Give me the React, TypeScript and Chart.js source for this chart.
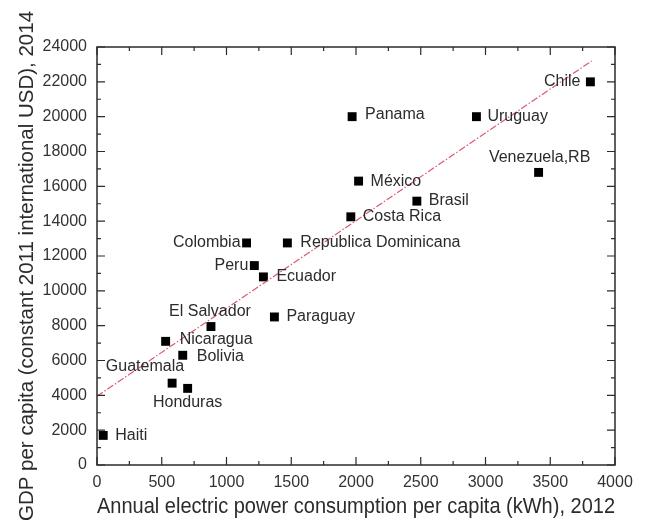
import React, { useEffect, useRef } from "react";
import { Chart, registerables } from "chart.js";

Chart.register(...registerables);

const countries = [
  "Chile", "Panama", "Uruguay", "Venezuela,RB", "México", "Brasil", "Costa Rica",
  "Colombia", "Republica Dominicana", "Peru", "Ecuador", "El Salvador", "Paraguay",
  "Nicaragua", "Bolivia", "Guatemala", "Honduras", "Haiti",
];
const powerKWh = [3810, 1970, 2930, 3410, 2020, 2470, 1960, 1155, 1470, 1215, 1285, 880, 1370, 530, 662, 580, 700, 48];
const gdpUSD = [22000, 20000, 20000, 16800, 16300, 15150, 14250, 12750, 12750, 11450, 10800, 7950, 8500, 7100, 6300, 4700, 4400, 1700];
const trendX = [0, 3820];
const trendY = [3950, 23200];
const xTicks = [0, 500, 1000, 1500, 2000, 2500, 3000, 3500, 4000];
const yTicks = [0, 2000, 4000, 6000, 8000, 10000, 12000, 14000, 16000, 18000, 20000, 22000, 24000];
const xTitle = "Annual electric power consumption per capita (kWh), 2012";
const yTitle = "GDP per capita (constant 2011 international USD), 2014";

// label placement: text alignment and pixel offset from the marker
const labelPlacement: { align: CanvasTextAlign; dx: number; dy: number }[] = [
  { align: "right", dx: -10, dy: 0 },
  { align: "left", dx: 13, dy: -2 },
  { align: "left", dx: 11, dy: 0 },
  { align: "center", dx: 1, dy: -15 },
  { align: "left", dx: 12, dy: 0 },
  { align: "left", dx: 12, dy: -1 },
  { align: "left", dx: 12, dy: 0 },
  { align: "right", dx: -6, dy: 0 },
  { align: "left", dx: 13, dy: 0 },
  { align: "right", dx: -6, dy: 0 },
  { align: "left", dx: 13, dy: 0 },
  { align: "center", dx: -1, dy: -15 },
  { align: "left", dx: 12, dy: 0 },
  { align: "left", dx: 14, dy: -2 },
  { align: "left", dx: 14, dy: 1 },
  { align: "right", dx: 12, dy: -17 },
  { align: "center", dx: 0, dy: 14 },
  { align: "left", dx: 12, dy: 0 },
];

const FONT = "'Liberation Sans', Arial, Helvetica, sans-serif";
const INK = "#2b2b2b";

const framePlugin = {
  id: "frameTicks",
  afterDatasetsDraw(chart: any) {
    const { ctx, chartArea } = chart;
    const { left, right, top, bottom } = chartArea;
    const xs = chart.scales.x;
    const ys = chart.scales.y;
    ctx.save();
    ctx.strokeStyle = INK;
    ctx.lineWidth = 1.5;
    ctx.strokeRect(left, top, right - left, bottom - top);
    ctx.lineWidth = 1.2;
    ctx.beginPath();
    for (let v = 0; v <= 4000; v += 250) {
      const len = v % 500 === 0 ? 8 : 4;
      const px = xs.getPixelForValue(v);
      ctx.moveTo(px, bottom);
      ctx.lineTo(px, bottom - len);
      ctx.moveTo(px, top);
      ctx.lineTo(px, top + len);
    }
    for (let v = 0; v <= 24000; v += 1000) {
      const len = v % 2000 === 0 ? 8 : 4;
      const py = ys.getPixelForValue(v);
      ctx.moveTo(left, py);
      ctx.lineTo(left + len, py);
      ctx.moveTo(right, py);
      ctx.lineTo(right - len, py);
    }
    ctx.stroke();

    // country labels
    ctx.fillStyle = INK;
    ctx.font = `16px ${FONT}`;
    ctx.textBaseline = "middle";
    countries.forEach((name, i) => {
      const p = labelPlacement[i];
      const px = xs.getPixelForValue(powerKWh[i]);
      const py = ys.getPixelForValue(gdpUSD[i]);
      ctx.textAlign = p.align;
      ctx.fillText(name, px + p.dx, py + p.dy);
    });

    // y-axis title (slightly below the plot's centre, as in the source)
    ctx.save();
    ctx.translate(27, (top + bottom) / 2 + 10);
    ctx.rotate(-Math.PI / 2);
    ctx.textAlign = "center";
    ctx.textBaseline = "middle";
    ctx.font = `20.5px ${FONT}`;
    ctx.fillText(yTitle, 0, 0);
    ctx.restore();
    ctx.restore();
  },
};

export default function App() {
  const ref = useRef<HTMLCanvasElement>(null);
  useEffect(() => {
    document.body.style.margin = "0";
    const canvas = ref.current!;
    const chart = new Chart(canvas, {
      type: "scatter",
      data: {
        datasets: [
          {
            type: "line",
            data: trendX.map((x, i) => ({ x, y: trendY[i] })),
            borderColor: "rgba(215,70,95,0.9)",
            borderWidth: 1.2,
            borderDash: [7, 2, 1.5, 2],
            pointRadius: 0,
            fill: false,
          } as any,
          {
            data: powerKWh.map((x, i) => ({ x, y: gdpUSD[i] })),
            pointStyle: "rect",
            pointRadius: 6.3,
            pointBorderWidth: 0,
            backgroundColor: "#000",
            borderColor: "#000",
          },
        ],
      },
      options: {
        animation: false,
        responsive: false,
        maintainAspectRatio: false,
        layout: { padding: { top: 47, right: 33, left: 0, bottom: 0 } },
        plugins: { legend: { display: false }, tooltip: { enabled: false } },
        scales: {
          x: {
            type: "linear",
            min: 0,
            max: 4000,
            afterBuildTicks: (s: any) => {
              s.ticks = xTicks.map((v) => ({ value: v }));
            },
            afterFit: (s: any) => {
              s.height = 58;
            },
            grid: { display: false, drawTicks: false },
            border: { display: false },
            ticks: {
              color: "#333",
              font: { family: FONT, size: 16 },
              padding: 8,
              maxRotation: 0,
              autoSkip: false,
              callback: (v: any) => String(v),
            },
            title: {
              display: true,
              text: xTitle,
              color: INK,
              font: { family: FONT, size: 22 },
              padding: { top: 0, bottom: 3 },
            },
          },
          y: {
            type: "linear",
            min: 0,
            max: 24000,
            afterBuildTicks: (s: any) => {
              s.ticks = yTicks.map((v) => ({ value: v }));
            },
            afterFit: (s: any) => {
              s.width = 97;
            },
            grid: { display: false, drawTicks: false },
            border: { display: false },
            ticks: {
              color: "#333",
              font: { family: FONT, size: 16 },
              padding: 10,
              autoSkip: false,
              callback: (v: any) => String(v),
            },
          },
        },
      },
      plugins: [framePlugin],
    });
    return () => chart.destroy();
  }, []);
  return <canvas ref={ref} width={648} height={523} style={{ display: "block" }} />;
}
